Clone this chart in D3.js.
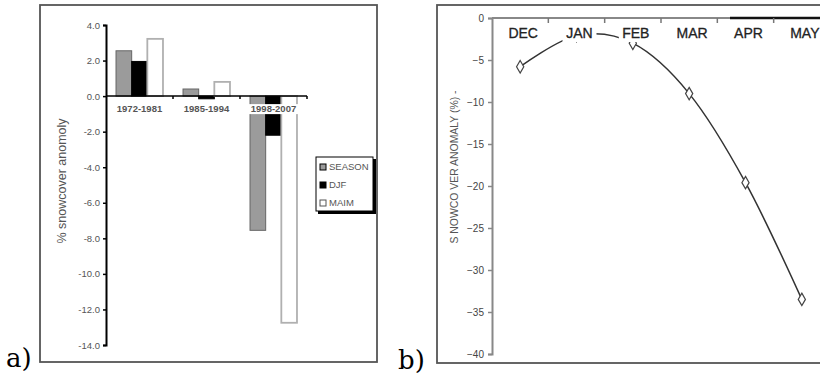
<!DOCTYPE html>
<html>
<head>
<meta charset="utf-8" />
<script src="https://cdn.jsdelivr.net/npm/d3@7"></script>
<style>
  body { margin: 0; background: #fff; }
  svg { font-family: "Liberation Sans", Arial, sans-serif; }
</style>
</head>
<body>
<svg width="820" height="379"></svg>
<script>
// panel a) data
var periods = ['1972-1981', '1985-1994', '1998-2007'];
var seasons = ['SEASON', 'DJF', 'MAIM'];
var seasonVals = [2.55, 0.4, -7.55];
var djfVals = [1.95, -0.15, -2.2];
var maimVals = [3.22, 0.8, -12.75];
var aTicks = [4, 2, 0, -2, -4, -6, -8, -10, -12, -14];

// panel b) data
var months = ['DEC', 'JAN', 'FEB', 'MAR', 'APR', 'MAY'];
var anomaly = [-5.8, -2.1, -3.0, -9.0, -19.6, -33.5];
var bTicks = [0, -5, -10, -15, -20, -25, -30, -35, -40];

var svg = d3.select('svg');

// ---------- panel a ----------
var ga = svg.append('g');
ga.append('rect').attr('x', 40).attr('y', 5).attr('width', 337).attr('height', 357)
  .attr('fill', '#fff').attr('stroke', '#555').attr('stroke-width', 1.8);

var ya = d3.scaleLinear().domain([-14, 4]).range([345, 25]);
var x0 = d3.scaleBand().domain(periods).range([106, 307]);
var x1 = d3.scaleBand().domain(seasons).range([0, x0.bandwidth()]).paddingOuter(0.64);

var barStyle = {
  SEASON: { fill: '#9b9b9b', stroke: '#666', sw: 1 },
  DJF: { fill: '#000', stroke: '#000', sw: 1 },
  MAIM: { fill: '#fff', stroke: '#b0b0b0', sw: 1.8 }
};
var rows = periods.map(function (p, i) {
  return { period: p, vals: [seasonVals[i], djfVals[i], maimVals[i]] };
});

ga.selectAll('g.grp').data(rows).enter().append('g')
  .attr('transform', function (d) { return 'translate(' + x0(d.period) + ',0)'; })
  .selectAll('rect').data(function (d) {
    return d.vals.map(function (v, j) { return { s: seasons[j], v: v }; });
  })
  .enter().append('rect')
  .attr('x', function (d) { return x1(d.s); })
  .attr('width', x1.bandwidth())
  .attr('y', function (d) { return ya(Math.max(0, d.v)); })
  .attr('height', function (d) { return Math.abs(ya(d.v) - ya(0)); })
  .attr('fill', function (d) { return barStyle[d.s].fill; })
  .attr('stroke', function (d) { return barStyle[d.s].stroke; })
  .attr('stroke-width', function (d) { return barStyle[d.s].sw; });

// y axis
var axA = ga.append('g').attr('transform', 'translate(106,0)')
  .call(d3.axisLeft(ya).tickValues(aTicks).tickFormat(d3.format('.1f')).tickSize(3).tickPadding(3));
axA.select('.domain').attr('stroke', '#000').attr('stroke-width', 2);
axA.selectAll('.tick line').attr('stroke', '#000').attr('stroke-width', 1.5);
axA.selectAll('.tick text').attr('font-size', 9.5).attr('fill', '#555')
  .text(function (d) { return d3.format('.1f')(d).replace('−', '-'); });

// x axis at zero
ga.append('line').attr('x1', 106).attr('x2', 307).attr('y1', ya(0)).attr('y2', ya(0))
  .attr('stroke', '#000').attr('stroke-width', 1.5);
ga.selectAll('line.xt').data(periods).enter().append('line')
  .attr('x1', function (d) { return x0(d) + x0.bandwidth(); })
  .attr('x2', function (d) { return x0(d) + x0.bandwidth(); })
  .attr('y1', ya(0)).attr('y2', ya(0) + 3)
  .attr('stroke', '#000').attr('stroke-width', 1.5);

// category labels with white backing
var catG = ga.selectAll('g.cat').data(periods).enter().append('g')
  .attr('transform', function (d) { return 'translate(' + (x0(d) + x0.bandwidth() / 2) + ',' + (ya(0) + 16) + ')'; });
catG.append('rect').attr('x', -27).attr('y', -8).attr('width', 54).attr('height', 10).attr('fill', '#fff');
catG.append('text').attr('text-anchor', 'middle').attr('font-size', 9.5).attr('font-weight', 'bold')
  .attr('fill', '#555').text(function (d) { return d; });

// y label
ga.append('text').attr('transform', 'translate(66,181) rotate(-90)')
  .attr('text-anchor', 'middle').attr('font-size', 12.5).attr('fill', '#555')
  .text('% snowcover anomoly');

// legend
var lg = ga.append('g').attr('transform', 'translate(316,157)');
lg.append('rect').attr('x', 2).attr('y', 2).attr('width', 58).attr('height', 55).attr('fill', '#000');
lg.append('rect').attr('width', 57).attr('height', 54).attr('fill', '#fff').attr('stroke', '#000').attr('stroke-width', 1);
var li = lg.selectAll('g.li').data(seasons).enter().append('g')
  .attr('transform', function (d, i) { return 'translate(4,' + (10 + i * 18) + ')'; });
li.append('rect').attr('y', -3).attr('width', 6).attr('height', 6)
  .attr('fill', function (d) { return barStyle[d].fill; })
  .attr('stroke', function (d) { return d === 'MAIM' ? '#555' : '#000'; }).attr('stroke-width', 1);
li.append('text').attr('x', 9).attr('dy', '0.35em').attr('font-size', 9.5).attr('fill', '#555')
  .text(function (d) { return d; });

svg.append('text').attr('x', 6).attr('y', 367).attr('font-family', '"DejaVu Serif", serif')
  .attr('font-size', 26).attr('fill', '#000').text('a)');

// ---------- panel b ----------
var gb = svg.append('g');
gb.append('rect').attr('x', 437).attr('y', 5).attr('width', 400).attr('height', 358)
  .attr('fill', '#fff').attr('stroke', '#555').attr('stroke-width', 1.8);

var yb = d3.scaleLinear().domain([-40, 0]).range([354, 18]);
var xb = d3.scaleBand().domain(months).range([492, 830]);

var axB = gb.append('g').attr('transform', 'translate(492,0)')
  .call(d3.axisLeft(yb).tickValues(bTicks).tickSize(4).tickPadding(4));
axB.select('.domain').attr('stroke', '#888').attr('stroke-width', 2);
axB.selectAll('.tick line').attr('stroke', '#888').attr('stroke-width', 1.5);
axB.selectAll('.tick text').attr('font-size', 10).attr('fill', '#444');

// top category axis
gb.append('line').attr('x1', 492).attr('x2', 730).attr('y1', yb(0)).attr('y2', yb(0))
  .attr('stroke', '#888').attr('stroke-width', 1.8);
gb.append('line').attr('x1', 730).attr('x2', 820).attr('y1', yb(0)).attr('y2', yb(0))
  .attr('stroke', '#111').attr('stroke-width', 2.5);
gb.selectAll('line.mt').data(months).enter().append('line')
  .attr('x1', function (d) { return xb(d) + xb.bandwidth(); })
  .attr('x2', function (d) { return xb(d) + xb.bandwidth(); })
  .attr('y1', yb(0)).attr('y2', yb(0) + 5)
  .attr('stroke', '#777').attr('stroke-width', 1.5);

// smoothed line + markers
var pts = months.map(function (m, i) { return { m: m, v: anomaly[i] }; });
var line = d3.line()
  .x(function (d) { return xb(d.m) + xb.bandwidth() / 2; })
  .y(function (d) { return yb(d.v); })
  .curve(d3.curveCardinal.tension(0));
gb.append('path').datum(pts).attr('d', line)
  .attr('fill', 'none').attr('stroke', '#333').attr('stroke-width', 1.5);
gb.selectAll('path.mk').data(pts).enter().append('path')
  .attr('transform', function (d) { return 'translate(' + (xb(d.m) + xb.bandwidth() / 2) + ',' + yb(d.v) + ')'; })
  .attr('d', d3.symbol().type(d3.symbolDiamond).size(45))
  .attr('fill', '#fff').attr('stroke', '#444').attr('stroke-width', 1.2);

// month labels with white backing
var mg = gb.selectAll('g.ml').data(months).enter().append('g')
  .attr('transform', function (d) { return 'translate(' + (xb(d) + xb.bandwidth() / 2 + 3) + ',38)'; });
mg.append('rect').attr('x', -17).attr('y', -12).attr('width', 34).attr('height', 16).attr('fill', '#fff');
mg.append('text').attr('text-anchor', 'middle').attr('font-size', 14).attr('fill', '#222')
  .attr('stroke', '#222').attr('stroke-width', 0.3)
  .text(function (d) { return d; });

// y label
gb.append('text').attr('transform', 'translate(458,167) rotate(-90)')
  .attr('text-anchor', 'middle').attr('font-size', 11).attr('fill', '#555')
  .attr('textLength', 153).attr('lengthAdjust', 'spacingAndGlyphs')
  .text('S NOWCO VER ANOMALY (%) -');

svg.append('text').attr('x', 398).attr('y', 369).attr('font-family', '"DejaVu Serif", serif')
  .attr('font-size', 26).attr('fill', '#000').text('b)');
</script>
</body>
</html>
